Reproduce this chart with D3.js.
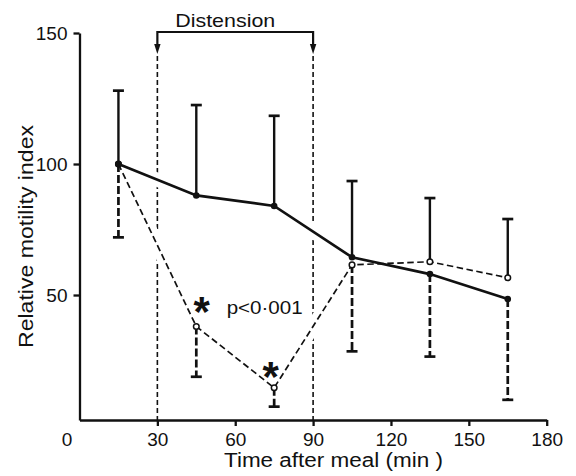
<!DOCTYPE html>
<html><head><meta charset="utf-8">
<script src="https://cdn.jsdelivr.net/npm/d3@7"></script>
<style>
body{margin:0;background:#fff}
svg{display:block}
text{font-family:"Liberation Sans",Arial,sans-serif;fill:#111}
</style>
</head><body>
<svg id="c" width="576" height="476"></svg>
<script>
// ---- data ----
const times = [15, 45, 75, 105, 135, 165];
const filledValues = [100, 88, 84, 64.4, 58, 48.5];     // solid line, filled circles
const openValues = [100, 38, 14.6, 61.5, 62.7, 56.6];   // dashed line, open circles
const upperError = [128, 122.5, 118.4, 93.5, 87, 79];   // solid SE bars (top)
const lowerError = [72, 18.8, 7.4, 28.5, 26.5, 10];     // dashed SE bars (bottom)
const xTicks = [0, 30, 60, 90, 120, 150, 180];
const yTicks = [50, 100, 150];
const distensionPeriod = [30, 90];
const asterisks = [[47.1, 45.5], [73.7, 20.7]];
const pLabel = {t: 56.7, v: 42.8, text: "p<0·001"};
const xTitle = "Time after meal (min )";
const yTitle = "Relative motility index";
const bracketTitle = "Distension";

// ---- scales ----
const svg = d3.select("#c");
const x = d3.scaleLinear().domain([0, 180]).range([79.5, 546.7]);
const y = d3.scaleLinear().domain([2.3, 150]).range([420, 33]);
const ink = "#111";

// distension dashed verticals
svg.append("g").selectAll("line").data(distensionPeriod).join("line")
  .attr("x1", d => x(d)).attr("x2", d => x(d))
  .attr("y1", 56).attr("y2", y.range()[0])
  .attr("stroke", ink).attr("stroke-width", 1.6).attr("stroke-dasharray", "5,3");

// bracket
const bx0 = x(distensionPeriod[0]), bx1 = x(distensionPeriod[1]);
svg.append("path")
  .attr("d", `M${bx0},46V32H${bx1}V46`)
  .attr("fill", "none").attr("stroke", ink).attr("stroke-width", 2.2);
svg.append("g").selectAll("path").data(distensionPeriod).join("path")
  .attr("d", d => `M${x(d)-3.2},44L${x(d)+3.2},44L${x(d)},54Z`)
  .attr("fill", ink);
svg.append("text").attr("x", d3.mean([bx0, bx1]) - 10).attr("y", 27)
  .attr("text-anchor", "middle").attr("font-size", 19)
  .attr("textLength", 100).attr("lengthAdjust", "spacingAndGlyphs")
  .text(bracketTitle);

// line generators
const lineF = d3.line().x((d, i) => x(times[i])).y(d => y(d));

// halos (break the dashed verticals where data lines cross)
[filledValues, openValues].forEach(vals => {
  svg.append("path").attr("d", lineF(vals))
    .attr("fill", "none").attr("stroke", "#fff").attr("stroke-width", 14);
});

// axes
const xAxis = svg.append("g").attr("transform", `translate(0,${y.range()[0]})`)
  .call(d3.axisBottom(x).tickValues(xTicks).tickSize(6).tickSizeOuter(0).tickPadding(7));
const yAxis = svg.append("g").attr("transform", `translate(${x(0)},0)`)
  .call(d3.axisLeft(y).tickValues(yTicks).tickSize(6).tickSizeOuter(0).tickPadding(6));
[xAxis, yAxis].forEach(g => {
  g.attr("font-family", null).attr("font-size", null);
  g.selectAll("path,line").attr("stroke", ink).attr("stroke-width", 2.3);
  g.selectAll("text").attr("font-size", 19).attr("fill", ink);
});
xAxis.selectAll(".tick").filter(d => d === 0).select("line").remove();
xAxis.selectAll(".tick").filter(d => d === 0).select("text").attr("dx", -13);

// data lines
svg.append("path").attr("d", lineF(openValues))
  .attr("fill", "none").attr("stroke", ink).attr("stroke-width", 1.7)
  .attr("stroke-dasharray", "6.5,3.5");
svg.append("path").attr("d", lineF(filledValues))
  .attr("fill", "none").attr("stroke", ink).attr("stroke-width", 2.7);

// error bars
const capW = 5.5;
const eb = svg.append("g");
times.forEach((t, i) => {
  const cx = x(t);
  const yHi = Math.min(y(filledValues[i]), y(openValues[i]));
  const yLo = Math.max(y(filledValues[i]), y(openValues[i]));
  const yt = y(upperError[i]), yb = y(lowerError[i]);
  eb.append("line").attr("x1", cx).attr("x2", cx).attr("y1", yHi).attr("y2", yt)
    .attr("stroke", ink).attr("stroke-width", 2.4);
  eb.append("line").attr("x1", cx - capW).attr("x2", cx + capW).attr("y1", yt).attr("y2", yt)
    .attr("stroke", ink).attr("stroke-width", 2.7);
  eb.append("line").attr("x1", cx).attr("x2", cx).attr("y1", yLo).attr("y2", yb)
    .attr("stroke", ink).attr("stroke-width", 2.7).attr("stroke-dasharray", "8,3");
  eb.append("line").attr("x1", cx - capW).attr("x2", cx + capW).attr("y1", yb).attr("y2", yb)
    .attr("stroke", ink).attr("stroke-width", 2.7);
});

// points
svg.append("g").selectAll("circle").data(openValues).join("circle")
  .attr("cx", (d, i) => x(times[i])).attr("cy", d => y(d)).attr("r", 2.8)
  .attr("fill", "#fff").attr("stroke", ink).attr("stroke-width", 1.5);
svg.append("g").selectAll("circle").data(filledValues).join("circle")
  .attr("cx", (d, i) => x(times[i])).attr("cy", d => y(d)).attr("r", 3.3)
  .attr("fill", ink);

// annotations
svg.append("g").selectAll("text").data(asterisks).join("text")
  .attr("x", d => x(d[0])).attr("y", d => y(d[1]) + 19)
  .attr("text-anchor", "middle").attr("font-size", 42).attr("font-weight", "bold")
  .attr("font-family", "DejaVu Sans")
  .text("*");
svg.append("text").attr("x", x(pLabel.t)).attr("y", y(pLabel.v))
  .attr("font-size", 19).attr("textLength", 76).attr("lengthAdjust", "spacingAndGlyphs")
  .text(pLabel.text);

// titles
svg.append("text").attr("x", 333.5).attr("y", 467)
  .attr("text-anchor", "middle").attr("font-size", 20)
  .attr("textLength", 219).attr("lengthAdjust", "spacingAndGlyphs")
  .text(xTitle);
svg.append("text").attr("transform", "translate(33,236.5) rotate(-90)")
  .attr("text-anchor", "middle").attr("font-size", 20)
  .attr("textLength", 223).attr("lengthAdjust", "spacingAndGlyphs")
  .text(yTitle);
</script>
</body></html>
